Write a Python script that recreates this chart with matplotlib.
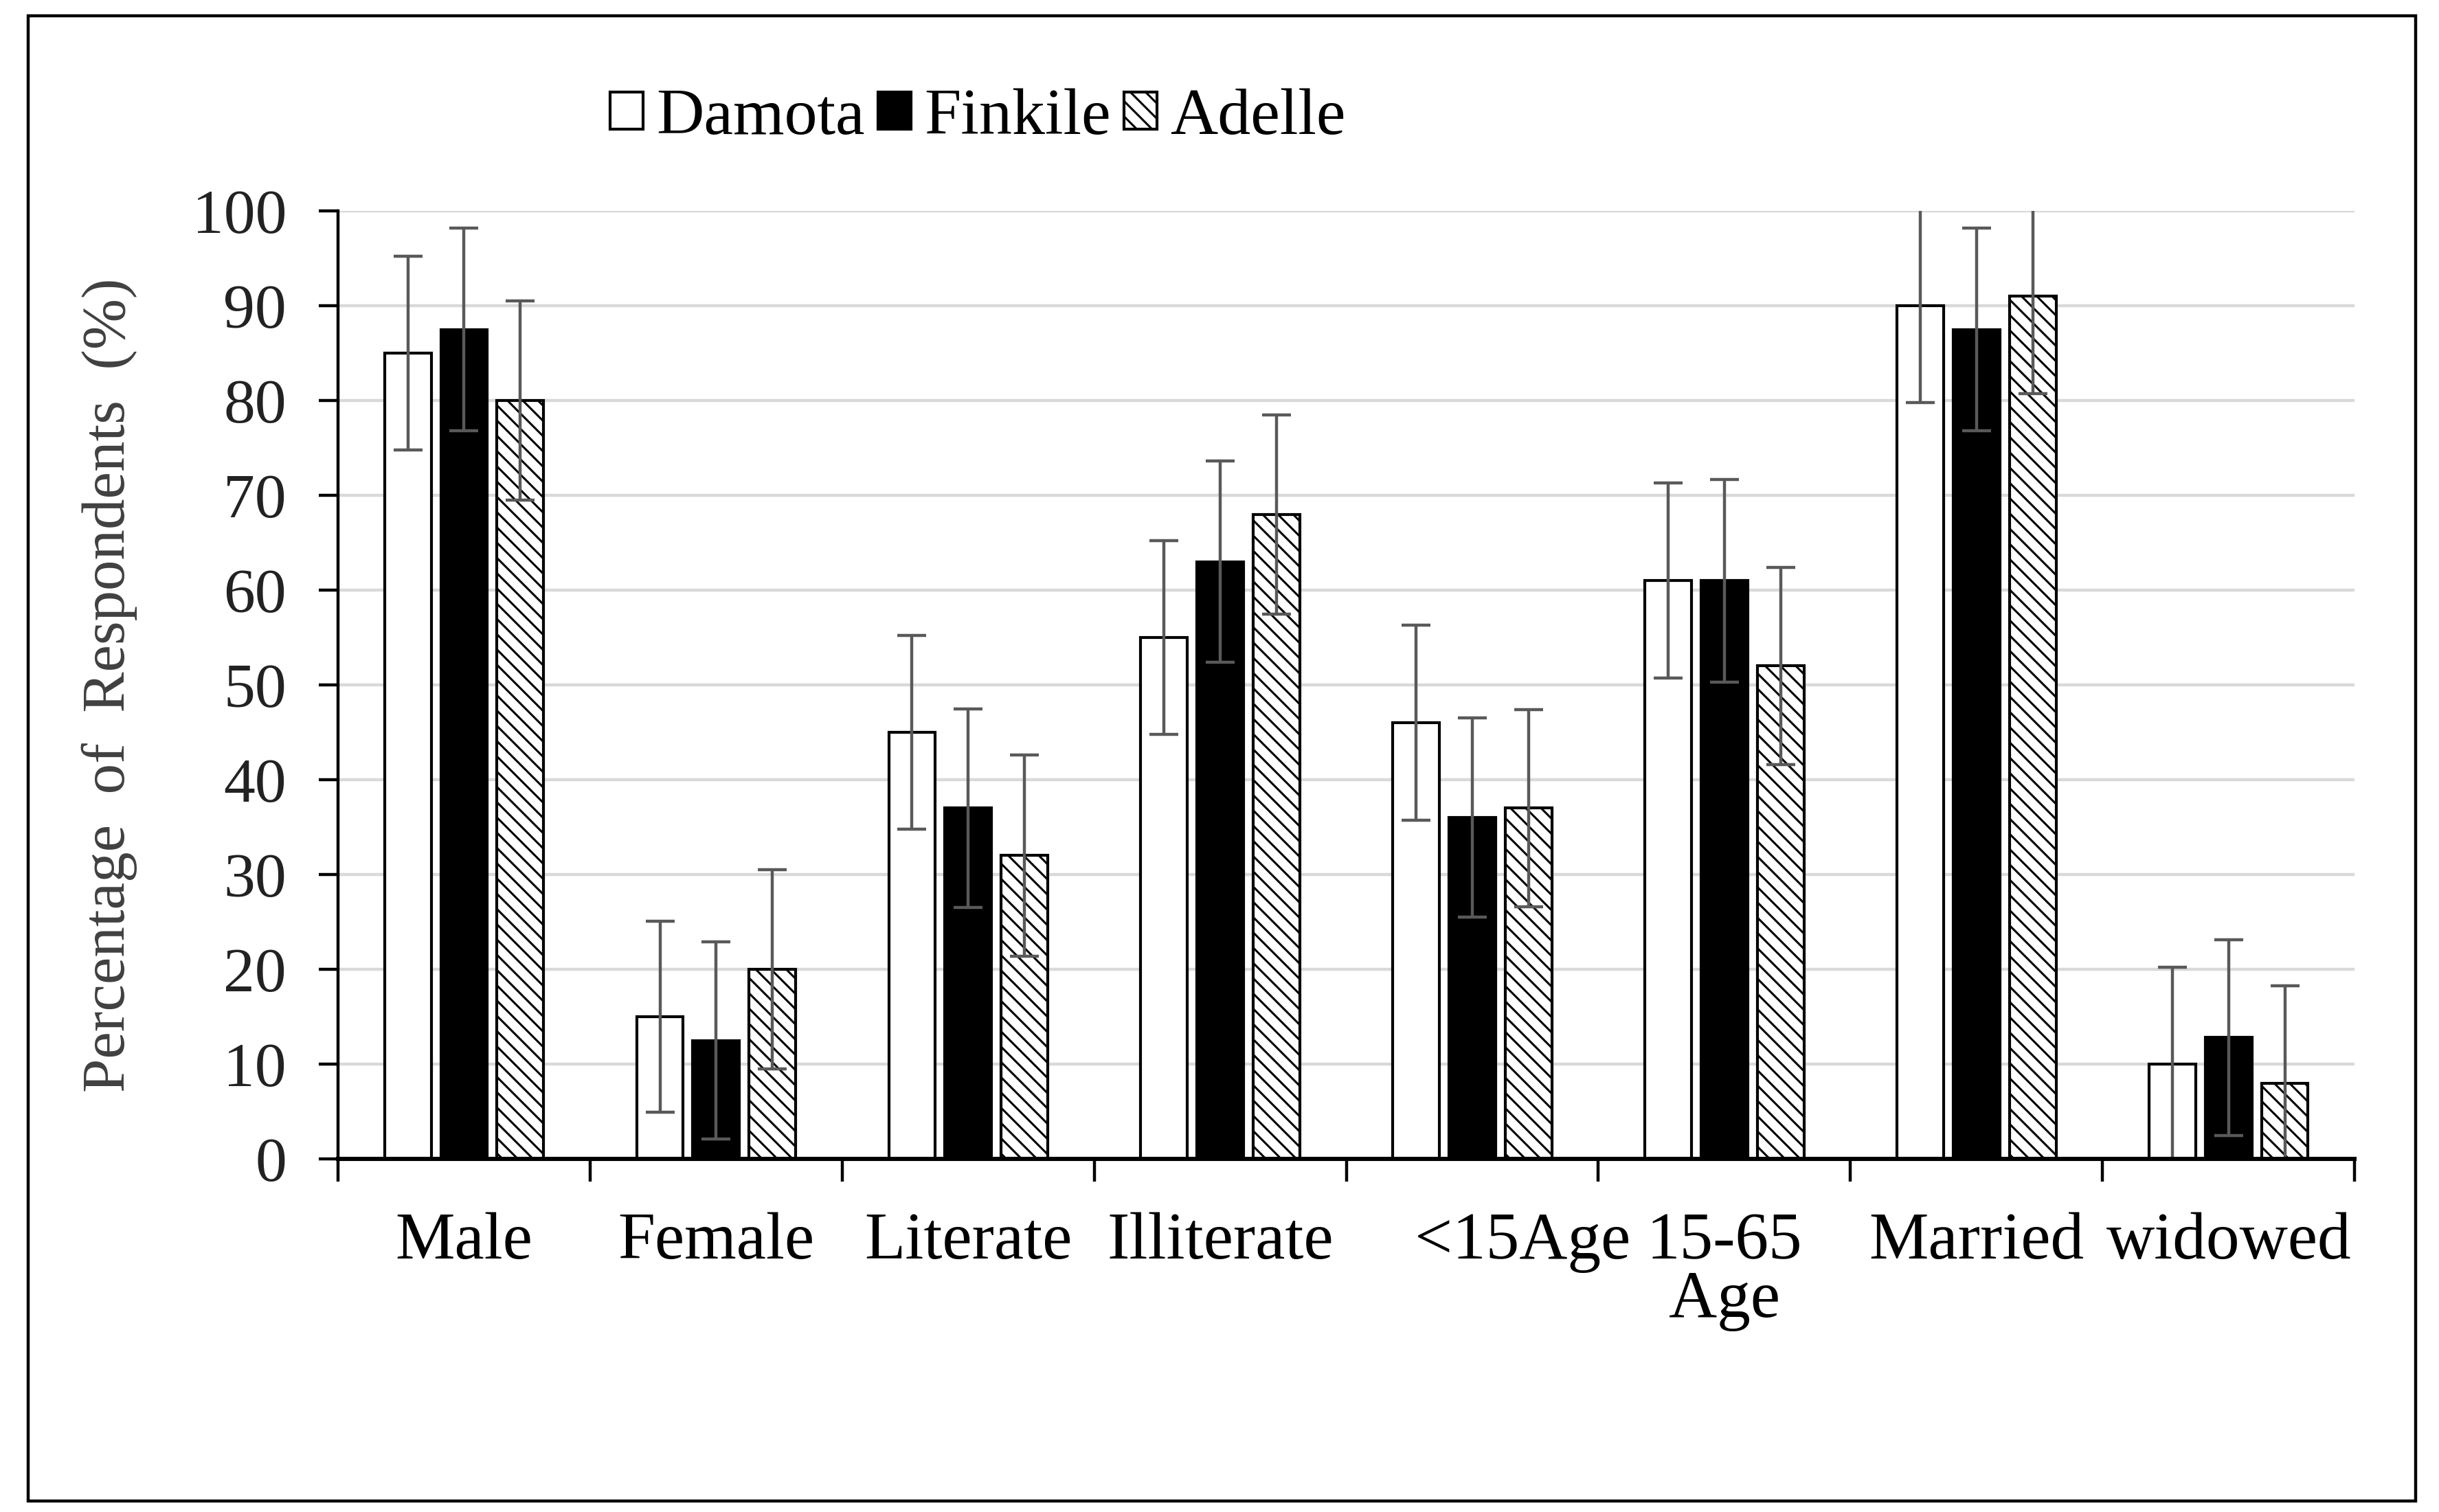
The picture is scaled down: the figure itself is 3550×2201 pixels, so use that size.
import numpy as np
import matplotlib
matplotlib.use("Agg")
import matplotlib.pyplot as plt
from matplotlib.patches import Rectangle

# ---- data ----
categories = ["Male", "Female", "Literate", "Illiterate", "      <15Age", "15-65\nAge", "Married", "widowed"]
series_names = ["Damota", "Finkile", "Adelle"]
damota = [85, 15, 45, 55, 46, 61, 90, 10]
finkile = [87.5, 12.5, 37, 63, 36, 61, 87.5, 12.8]
adelle = [80, 20, 32, 68, 37, 52, 91, 8]
damota_err = [10.2, 10.1, 10.2, 10.2, 10.3, 10.3, 10.2, 10.2]
finkile_err = [10.7, 10.4, 10.5, 10.6, 10.5, 10.7, 10.7, 10.3]
adelle_err = [10.5, 10.5, 10.6, 10.5, 10.4, 10.4, 10.3, 10.3]
yticks = [0, 10, 20, 30, 40, 50, 60, 70, 80, 90, 100]

plt.rcParams['font.family'] = ['Liberation Serif', 'DejaVu Serif']
plt.rcParams['hatch.linewidth'] = 1.1

fig = plt.figure(figsize=(17.75, 11.005), dpi=200)
ax = fig.add_axes([0.1386, 0.2335, 0.8268, 0.627])

x = np.arange(len(categories))
width = 0.185
offset = 0.223
err_kw = dict(ecolor='#595959', elinewidth=1.6, capsize=7.5, capthick=1.6)

styles = [
    dict(color='white', edgecolor='black', hatch=None),
    dict(color='black', edgecolor='black', hatch=None),
    dict(color='white', edgecolor='black', hatch='\\\\\\'),
]
vals = [damota, finkile, adelle]
errs = [damota_err, finkile_err, adelle_err]
handles = []
for i, (name, v, e, st) in enumerate(zip(series_names, vals, errs, styles)):
    b = ax.bar(x + (i - 1) * offset, v, width, yerr=e, label=name,
               color=st['color'], edgecolor=st['edgecolor'], hatch=st['hatch'],
               linewidth=1.5, error_kw=err_kw, zorder=2)
    handles.append(b)

ax.set_xlim(-0.5, len(categories) - 0.5)
ax.set_ylim(0, 100)
ax.set_yticks(yticks)
ax.set_yticklabels([str(t) for t in yticks], fontsize=33, color='#222222')
ax.tick_params(axis='y', direction='out', length=10, width=1.6, pad=17)

ax.set_xticks(np.arange(-0.5, len(categories), 1.0))
ax.set_xticklabels([])
ax.tick_params(axis='x', which='major', direction='out', length=12, width=1.6)
ax.set_xticks(x, minor=True)
ax.set_xticklabels(categories, minor=True, fontsize=35, linespacing=0.95, va='top')
ax.tick_params(axis='x', which='minor', length=0, pad=28)

ax.grid(axis='y', color='#d9d9d9', linewidth=1.6, zorder=0)
ax.set_axisbelow(True)
for s in ['top', 'right']:
    ax.spines[s].set_visible(False)
ax.spines['left'].set_linewidth(1.6)
ax.spines['bottom'].set_linewidth(2.2)

ax.set_ylabel("Percentage  of  Respondents  (%)", fontsize=32, color='#404040')
ax.yaxis.set_label_coords(-0.0995, 0.5)

leg = fig.legend(handles=handles, labels=series_names, loc='center',
                 bbox_to_anchor=(0.401, 0.922), ncol=3, frameon=False,
                 fontsize=34.5, handlelength=0.5, handleheight=0.5,
                 handletextpad=0.2, columnspacing=0.2, borderpad=0)
for h in leg.legend_handles:
    h.set_linewidth(1.5)

fig.patches.append(Rectangle((0.01155, 0.00727), 0.9789, 0.9823,
                             transform=fig.transFigure, fill=False,
                             edgecolor='black', linewidth=1.6))

fig.savefig("out.png", dpi=200)
